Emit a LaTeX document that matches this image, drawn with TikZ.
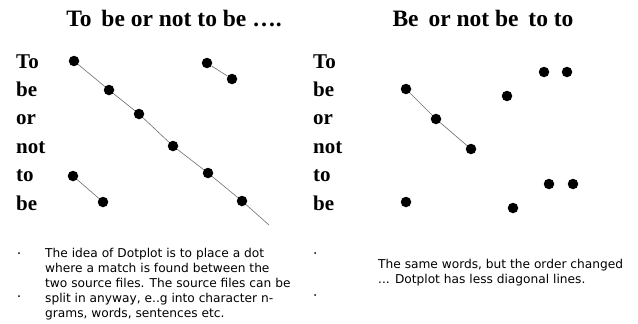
\documentclass[tikz,border=0pt]{standalone}
\usepackage{fontspec}
\setmainfont{Liberation Serif}
\newfontfamily\notefont{DejaVu Sans}
\usepackage{tikz}
\usetikzlibrary{positioning}
\definecolor{plotgray}{RGB}{110,110,110}
\begin{document}
\begin{tikzpicture}[x=1pt,y=-1pt,
  ttl/.style={font=\fontsize{23.5}{25}\selectfont\bfseries,inner sep=0pt,anchor=base},
  wrd/.style={font=\fontsize{21}{23}\selectfont\bfseries,inner sep=0pt,anchor=base west},
  dot/.style={circle,fill=black,inner sep=0pt,minimum size=10.5pt},
  bul/.style={circle,fill=black,inner sep=0pt,minimum size=2pt},
  note/.style={font=\notefont\fontsize{12.2}{15}\selectfont,inner sep=0pt,anchor=north west,align=left},
  ln/.style={plotgray,line width=0.6pt}
]
\useasboundingbox (0,0) rectangle (638,324);

% TOP: the two titles
\node[ttl] (t1) at (174,27) {To\hspace{4pt} be or not to be ….};
\node[ttl] (t2) at (483,27) {Be\hspace{4pt} or not be\hspace{4pt} to to};

% LEFT: words down the side of each plot
\foreach \w [count=\i] in {To,be,or,not,to,be} {
  \node[wrd] (wa\i) at (16,{68+28.4*(\i-1)}) {\w};
  \node[wrd] (wb\i) at (313,{68+28.4*(\i-1)}) {\w};
}

% LEFT PLOT: dots where the words match
\node[dot] (a1) at (74,61) {};
\node[dot] (a2) at (109,90) {};
\node[dot] (a3) at (139,114) {};
\node[dot] (a4) at (173,146) {};
\node[dot] (a5) at (208,173) {};
\node[dot] (a6) at (242,201) {};
\coordinate (aend) at (269,225);
\node[dot] (a7) at (207,63) {};
\node[dot] (a8) at (232,79) {};
\node[dot] (a9) at (73,176) {};
\node[dot] (a10) at (103,202) {};
\draw[ln] (a1) -- (a2) -- (a3) -- (a4) -- (a5) -- (a6) -- (aend);
\draw[ln] (a7) -- (a8);
\draw[ln] (a9) -- (a10);

% RIGHT PLOT: the same words, shuffled
\node[dot] (b1) at (406,89) {};
\node[dot] (b2) at (436,119) {};
\node[dot] (b3) at (471,149) {};
\node[dot] (b4) at (507,96) {};
\node[dot] (b5) at (544,72) {};
\node[dot] (b6) at (567,72) {};
\node[dot] (b7) at (406,202) {};
\node[dot] (b8) at (513,208) {};
\node[dot] (b9) at (549,184) {};
\node[dot] (b10) at (573,184) {};
\draw[ln] (b1) -- (b2) -- (b3);

% BOTTOM: notes with their bullets
\node[bul] (p1) at (19,253) {};
\node[bul] (p2) at (19,296) {};
\node[bul] (p3) at (315,253) {};
\node[bul] (p4) at (315,295) {};
\node[note] (n1) at (45,248) {The idea of Dotplot is to place a dot\\where a match is found between the\\two source files. The source files can be\\split in anyway, e..g into character n-\\grams, words, sentences etc.};
\node[note] (n2) at (378,259) {The same words, but the order changed\\... Dotplot has less diagonal lines.};
\end{tikzpicture}
\end{document}
